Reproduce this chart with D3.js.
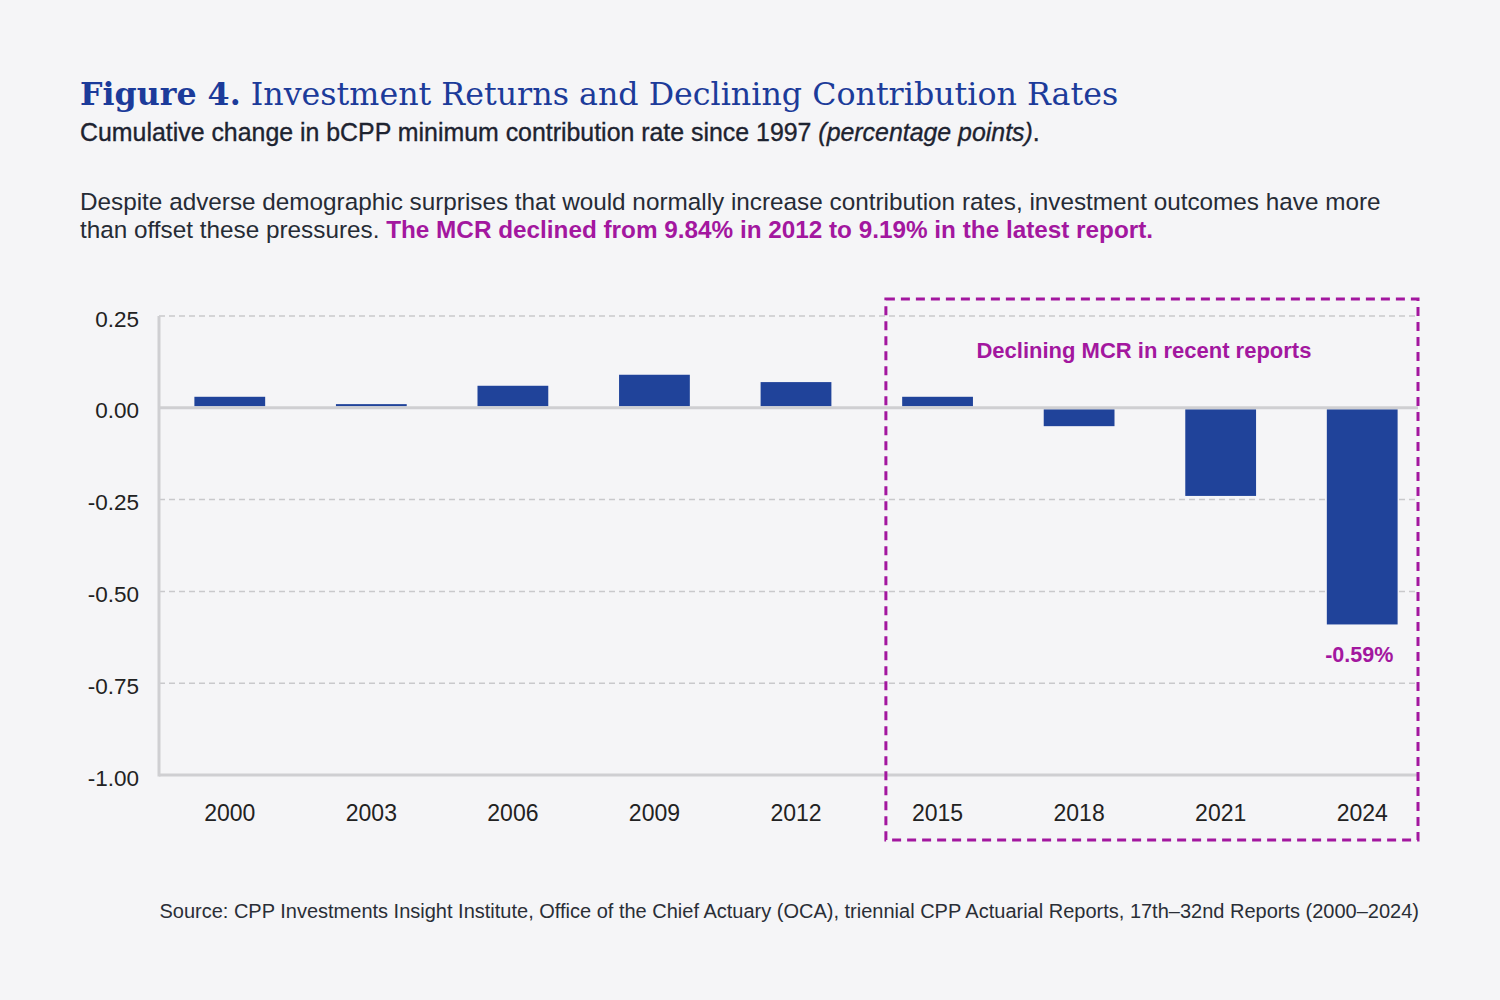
<!DOCTYPE html>
<html>
<head>
<meta charset="utf-8">
<script src="https://cdn.jsdelivr.net/npm/d3@7"></script>
<style>
  body { margin: 0; background: #f5f5f7; }
  svg { display: block; }
</style>
</head>
<body>
<div id="chart"></div>
<script>
// data
const years = ["2000", "2003", "2006", "2009", "2012", "2015", "2018", "2021", "2024"];
const changes = [0.03, 0.01, 0.06, 0.09, 0.07, 0.03, -0.05, -0.24, -0.59];
const yTicks = [0.25, 0, -0.25, -0.5, -0.75, -1.0];
const highlightYears = ["2015", "2018", "2021", "2024"];

const WIDTH = 1500, HEIGHT = 1000;
const plot = {left: 159, right: 1418, top: 316, bottom: 775};
const navy = "#1c3b9a", magenta = "#a3179f", barColor = "#20439a", ink = "#1d2330";
const sans = "'Liberation Sans', Arial, sans-serif";
const serif = "'DejaVu Serif', 'Liberation Serif', serif";
// hyphen instead of unicode minus, like the original
const fmt = d => d3.format(".2f")(d).replace("\u2212", "-");

let svg = d3.select("#chart")
  .append("svg")
  .attr("width", WIDTH)
  .attr("height", HEIGHT);

svg.append("rect").attr("width", WIDTH).attr("height", HEIGHT).attr("fill", "#f5f5f7");

// scales
let x = d3.scaleBand()
  .domain(years)
  .range([plot.left, 1433])
  .paddingInner(0.5)
  .paddingOuter(0.25);

let y = d3.scaleLinear()
  .domain([-1.0, 0.25])
  .range([plot.bottom, plot.top]);

// title block
let title = svg.append("text")
  .attr("x", 80).attr("y", 105)
  .style("font-family", serif)
  .style("font-size", "31.7px")
  .attr("fill", navy);
title.append("tspan").style("font-weight", "bold").text("Figure 4.");
title.append("tspan").text(" Investment Returns and Declining Contribution Rates");

let sub = svg.append("text")
  .attr("x", 80).attr("y", 141)
  .style("font-family", sans)
  .style("font-size", "24.9px")
  .attr("fill", ink)
  .attr("stroke", ink)
  .attr("stroke-width", 0.35);
sub.append("tspan").text("Cumulative change in bCPP minimum contribution rate since 1997 ");
sub.append("tspan").style("font-style", "italic").text("(percentage points)");
sub.append("tspan").text(".");

svg.append("text")
  .attr("x", 80).attr("y", 210)
  .style("font-family", sans)
  .style("font-size", "24.3px")
  .attr("fill", "#262b35")
  .text("Despite adverse demographic surprises that would normally increase contribution rates, investment outcomes have more");

let line2 = svg.append("text")
  .attr("x", 80).attr("y", 238)
  .style("font-family", sans)
  .style("font-size", "24.3px")
  .attr("fill", "#262b35");
line2.append("tspan").text("than offset these pressures. ");
line2.append("tspan").attr("fill", magenta).style("font-weight", "bold")
  .text("The MCR declined from 9.84% in 2012 to 9.19% in the latest report.");

// grid lines
svg.append("g")
  .selectAll("line")
  .data(yTicks.filter(d => d !== 0 && d !== -1.0))
  .enter()
  .append("line")
  .attr("x1", plot.left).attr("x2", plot.right)
  .attr("y1", d => y(d)).attr("y2", d => y(d))
  .attr("stroke", "#c9c9cc")
  .attr("stroke-width", 1.5)
  .attr("stroke-dasharray", "6,4");

// y-axis labels
let yAxis = svg.append("g")
  .attr("transform", `translate(${plot.left - 20}, 2)`)
  .call(d3.axisLeft(y).tickValues(yTicks).tickSize(0).tickPadding(0).tickFormat(fmt));
yAxis.select(".domain").remove();
yAxis.selectAll("text")
  .style("font-family", sans)
  .style("font-size", "22.5px")
  .attr("fill", "#222")
  .attr("dy", "0.36em");

// x-axis labels
let xAxis = svg.append("g")
  .attr("transform", `translate(0, ${plot.bottom + 30})`)
  .call(d3.axisBottom(x).tickSize(0).tickPadding(0));
xAxis.select(".domain").remove();
xAxis.selectAll("text")
  .style("font-family", sans)
  .style("font-size", "23px")
  .attr("fill", "#222")
  .attr("dy", "0.71em");

// bars
svg.append("g")
  .selectAll("rect")
  .data(years.map((yr, i) => ({year: yr, value: changes[i]})))
  .enter()
  .append("rect")
  .attr("fill", barColor)
  .attr("x", d => x(d.year))
  .attr("width", x.bandwidth())
  .attr("y", d => d.value >= 0 ? y(d.value) : y(0) + 1.5)
  .attr("height", d => d.value >= 0 ? Math.max(1.5, y(0) - 1.5 - y(d.value)) : y(d.value) - y(0) - 1.5);

// axis lines
svg.append("line")
  .attr("x1", plot.left).attr("x2", plot.right)
  .attr("y1", y(0)).attr("y2", y(0))
  .attr("stroke", "#cfcfd2").attr("stroke-width", 3);
svg.append("line")
  .attr("x1", plot.left).attr("x2", plot.left)
  .attr("y1", plot.top).attr("y2", plot.bottom + 1.5)
  .attr("stroke", "#cfcfd2").attr("stroke-width", 3);
svg.append("line")
  .attr("x1", plot.left).attr("x2", plot.right)
  .attr("y1", plot.bottom).attr("y2", plot.bottom)
  .attr("stroke", "#cfcfd2").attr("stroke-width", 3);

// highlight box around recent reports
let boxLeft = x(highlightYears[0]) - x.bandwidth() * 0.23;
svg.append("rect")
  .attr("x", boxLeft)
  .attr("y", 299)
  .attr("width", plot.right - boxLeft)
  .attr("height", 541)
  .attr("fill", "none")
  .attr("stroke", magenta)
  .attr("stroke-width", 3)
  .attr("stroke-dasharray", "9,6");

svg.append("text")
  .attr("x", (boxLeft + plot.right) / 2 - 8)
  .attr("y", 358)
  .style("text-anchor", "middle")
  .style("font-family", sans)
  .style("font-weight", "bold")
  .style("font-size", "22px")
  .attr("fill", magenta)
  .text("Declining MCR in recent reports");

// value label on last bar
svg.append("text")
  .attr("x", x(years[years.length - 1]) + x.bandwidth() / 2 - 3)
  .attr("y", y(changes[changes.length - 1]) + 38)
  .style("text-anchor", "middle")
  .style("font-family", sans)
  .style("font-weight", "bold")
  .style("font-size", "21.5px")
  .attr("fill", magenta)
  .text(fmt(changes[changes.length - 1]) + "%");

// source
svg.append("text")
  .attr("x", 1419).attr("y", 918)
  .style("text-anchor", "end")
  .style("font-family", sans)
  .style("font-size", "20px")
  .attr("fill", "#2a2e36")
  .text("Source: CPP Investments Insight Institute, Office of the Chief Actuary (OCA), triennial CPP Actuarial Reports, 17th\u201332nd Reports (2000\u20132024)");
</script>
</body>
</html>
